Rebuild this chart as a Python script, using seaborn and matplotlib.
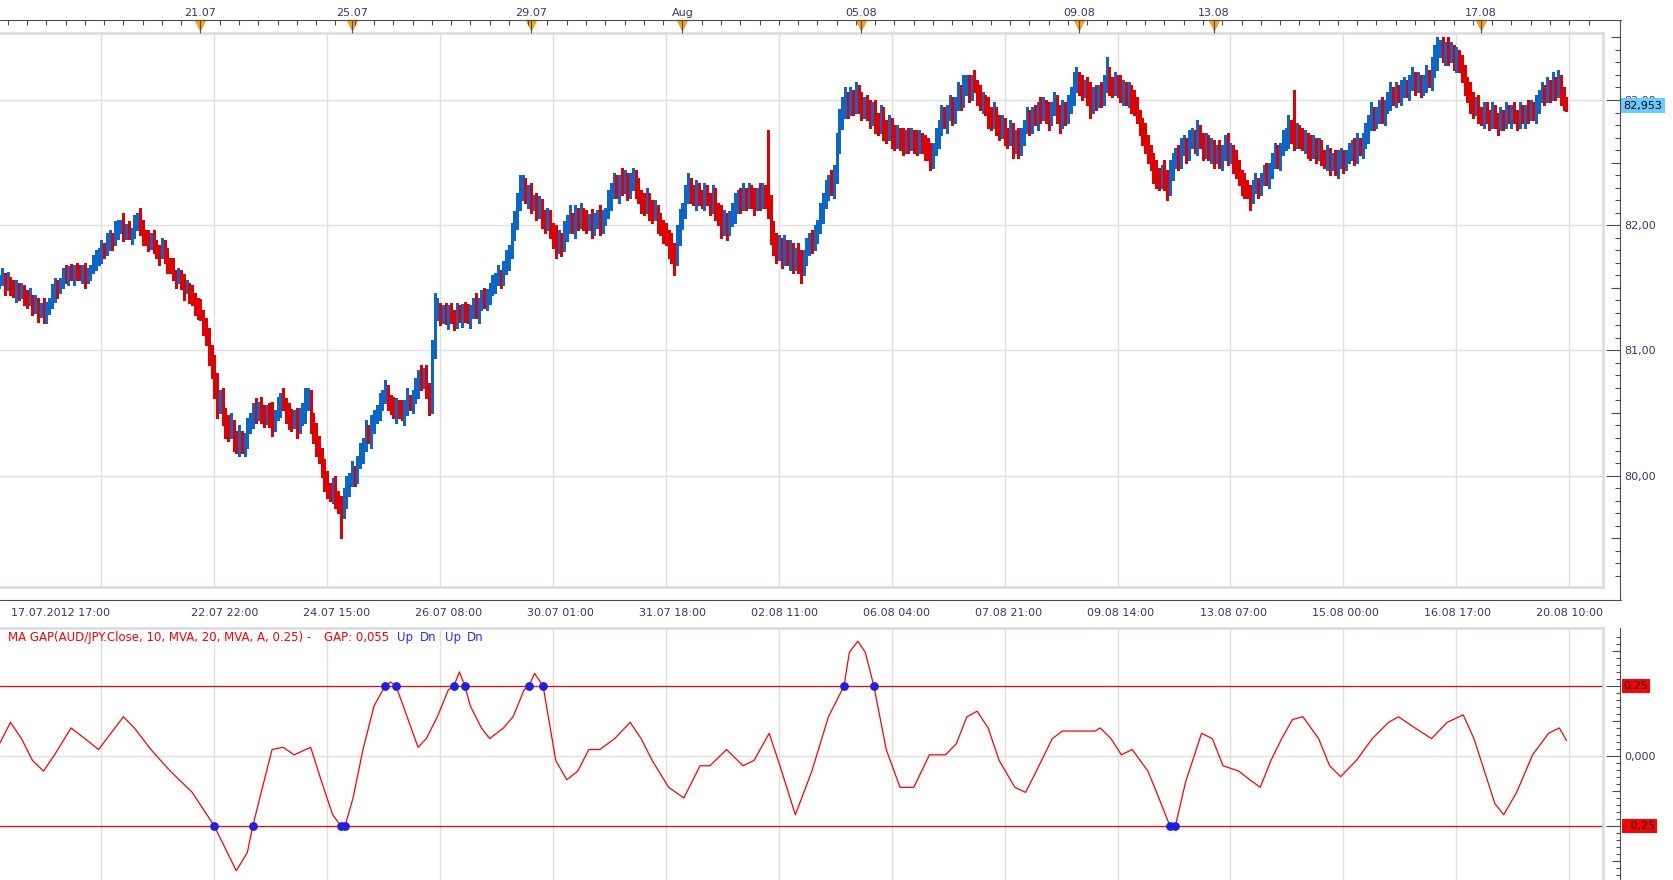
import numpy as np
import pandas as pd
import seaborn as sns
import matplotlib.pyplot as plt
import matplotlib.transforms as mtransforms
from matplotlib.lines import Line2D

# ---- AUD/JPY hourly closes (one value per bar) ----
close = [
    81.56, 81.60, 81.52, 81.55, 81.50, 81.47, 81.52, 81.46, 81.48, 81.44,
    81.40, 81.42, 81.36, 81.38, 81.33, 81.36, 81.30, 81.35, 81.38, 81.45,
    81.52, 81.50, 81.56, 81.60, 81.58, 81.63, 81.60, 81.66, 81.62, 81.60,
    81.64, 81.58, 81.62, 81.66, 81.70, 81.72, 81.78, 81.82, 81.80, 81.86,
    81.90, 81.88, 81.95, 81.98, 82.00, 81.95, 81.97, 81.93, 81.96, 82.00,
    82.04, 81.98, 81.92, 81.88, 81.85, 81.90, 81.86, 81.80, 81.78, 81.84,
    81.76, 81.70, 81.66, 81.62, 81.58, 81.60, 81.55, 81.50, 81.52, 81.46,
    81.42, 81.38, 81.33, 81.30, 81.22, 81.12, 81.00, 80.88, 80.70, 80.58,
    80.62, 80.50, 80.42, 80.36, 80.40, 80.30, 80.26, 80.32, 80.24, 80.28,
    80.38, 80.46, 80.52, 80.48, 80.55, 80.50, 80.45, 80.52, 80.47, 80.42,
    80.48, 80.55, 80.60, 80.58, 80.52, 80.45, 80.42, 80.48, 80.40, 80.44,
    80.50, 80.58, 80.62, 80.46, 80.34, 80.26, 80.18, 80.05, 79.98, 79.90,
    79.86, 79.92, 79.84, 79.78, 79.72, 79.82, 79.90, 79.96, 80.04, 80.00,
    80.10, 80.18, 80.26, 80.34, 80.30, 80.40, 80.46, 80.52, 80.58, 80.62,
    80.66, 80.60, 80.55, 80.50, 80.56, 80.52, 80.48, 80.54, 80.60, 80.56,
    80.62, 80.70, 80.78, 80.74, 80.80, 80.70, 80.58, 81.02, 81.30, 81.34,
    81.28, 81.30, 81.25, 81.32, 81.28, 81.24, 81.30, 81.27, 81.33, 81.29,
    81.26, 81.32, 81.36, 81.30, 81.38, 81.42, 81.38, 81.45, 81.48, 81.52,
    81.56, 81.60, 81.58, 81.65, 81.72, 81.80, 81.92, 82.05, 82.18, 82.28,
    82.30, 82.24, 82.26, 82.18, 82.20, 82.12, 82.15, 82.08, 82.02, 82.06,
    81.98, 81.92, 81.86, 81.90, 81.85, 81.95, 82.02, 82.06, 82.00, 82.08,
    82.04, 82.10, 82.06, 82.02, 82.05, 82.00, 82.04, 82.08, 82.02, 82.06,
    82.10, 82.20, 82.28, 82.32, 82.26, 82.34, 82.30, 82.36, 82.28, 82.32,
    82.38, 82.30, 82.24, 82.20, 82.16, 82.22, 82.14, 82.10, 82.12, 82.04,
    82.00, 81.96, 81.92, 81.86, 81.80, 81.76, 81.90, 82.05, 82.12, 82.22,
    82.30, 82.26, 82.22, 82.28, 82.24, 82.20, 82.26, 82.22, 82.18, 82.24,
    82.14, 82.08, 82.02, 82.06, 82.00, 82.05, 82.10, 82.16, 82.22, 82.18,
    82.24, 82.20, 82.26, 82.22, 82.18, 82.24, 82.20, 82.26, 82.22, 82.12,
    81.95, 81.88, 81.80, 81.84, 81.78, 81.82, 81.76, 81.80, 81.72, 81.78,
    81.74, 81.70, 81.76, 81.82, 81.88, 81.86, 81.94, 82.00, 82.10, 82.20,
    82.28, 82.34, 82.30, 82.40, 82.62, 82.85, 82.92, 82.98, 82.94, 83.00,
    82.96, 83.02, 82.98, 82.94, 82.96, 82.90, 82.86, 82.92, 82.84, 82.80,
    82.86, 82.78, 82.74, 82.80, 82.72, 82.68, 82.74, 82.70, 82.64, 82.70,
    82.66, 82.72, 82.68, 82.64, 82.70, 82.66, 82.62, 82.60, 82.56, 82.62,
    82.70, 82.78, 82.86, 82.82, 82.90, 82.94, 82.88, 82.96, 83.04, 83.00,
    83.08, 83.12, 83.06, 83.14, 83.10, 83.04, 82.98, 83.00, 82.94, 82.88,
    82.84, 82.90, 82.82, 82.76, 82.80, 82.74, 82.70, 82.76, 82.66, 82.72,
    82.64, 82.70, 82.78, 82.84, 82.80, 82.88, 82.84, 82.92, 82.88, 82.94,
    82.90, 82.86, 82.92, 82.96, 82.90, 82.84, 82.92, 82.88, 82.94, 83.02,
    83.10, 83.16, 83.12, 83.06, 83.10, 83.04, 82.96, 83.04, 83.00, 83.06,
    83.02, 83.10, 83.18, 83.12, 83.08, 83.14, 83.10, 83.04, 83.08, 83.02,
    83.06, 83.00, 82.96, 82.88, 82.80, 82.74, 82.66, 82.60, 82.52, 82.44,
    82.40, 82.36, 82.44, 82.38, 82.32, 82.42, 82.50, 82.56, 82.52, 82.60,
    82.64, 82.58, 82.66, 82.70, 82.64, 82.72, 82.68, 82.62, 82.66, 82.58,
    82.62, 82.56, 82.60, 82.54, 82.58, 82.64, 82.56, 82.60, 82.52, 82.46,
    82.40, 82.34, 82.30, 82.28, 82.24, 82.30, 82.34, 82.30, 82.36, 82.40,
    82.38, 82.44, 82.50, 82.56, 82.52, 82.60, 82.66, 82.70, 82.76, 82.72,
    82.68, 82.74, 82.70, 82.66, 82.70, 82.64, 82.60, 82.66, 82.58, 82.62,
    82.56, 82.52, 82.56, 82.50, 82.54, 82.48, 82.52, 82.56, 82.50, 82.54,
    82.58, 82.62, 82.56, 82.64, 82.60, 82.66, 82.72, 82.80, 82.86, 82.82,
    82.88, 82.92, 82.86, 82.94, 82.98, 83.04, 83.00, 83.06, 83.02, 83.08,
    83.10, 83.06, 83.12, 83.16, 83.10, 83.14, 83.08, 83.12, 83.18, 83.14,
    83.22, 83.30, 83.38, 83.42, 83.36, 83.40, 83.34, 83.38, 83.30, 83.34,
    83.28, 83.22, 83.14, 83.06, 83.00, 82.94, 82.98, 82.90, 82.86, 82.92,
    82.88, 82.84, 82.90, 82.86, 82.82, 82.88, 82.84, 82.90, 82.86, 82.92,
    82.88, 82.84, 82.90, 82.86, 82.92, 82.88, 82.94, 82.90, 82.96, 83.02,
    83.06, 83.02, 83.08, 83.04, 83.10, 83.06, 83.12, 83.04, 82.98, 82.95,
]

# upper / lower shadow beyond the body, in steps of 2 pips (0.02 yen)
hi_wick = [
    2, 3, 1, 4, 2, 3, 2, 1, 3, 2, 2, 4, 1, 3, 2, 1, 3, 2, 2, 4, 3, 2, 1, 3, 4, 2, 3, 1, 2, 3,
    2, 3, 2, 1, 3, 4, 2, 3, 2, 4, 3, 2, 4, 3, 2, 5, 2, 3, 1, 4, 3, 5, 3, 2, 4, 2, 3, 1, 2, 3,
    2, 3, 2, 4, 1, 3, 2, 3, 2, 1, 3, 2, 2, 4, 1, 2, 3, 2, 4, 6, 3, 4, 2, 3, 5, 2, 3, 4, 2, 3,
    4, 2, 3, 5, 2, 4, 3, 2, 3, 6, 2, 4, 3, 5, 2, 3, 4, 2, 3, 5, 4, 6, 4, 3, 2, 4, 3, 2, 4, 3,
    2, 3, 4, 2, 3, 4, 5, 3, 4, 2, 3, 4, 2, 5, 3, 4, 3, 2, 4, 3, 5, 3, 2, 4, 3, 2, 4, 3, 5, 2,
    3, 4, 3, 5, 3, 4, 2, 3, 8, 4, 2, 3, 4, 2, 3, 2, 4, 3, 2, 3, 4, 2, 3, 5, 2, 3, 4, 2, 3, 4,
    3, 4, 2, 3, 4, 2, 5, 3, 4, 6, 5, 4, 3, 4, 2, 3, 4, 3, 2, 4, 3, 2, 4, 3, 2, 4, 3, 5, 2, 4,
    3, 4, 2, 3, 2, 4, 3, 2, 4, 3, 2, 4, 3, 5, 4, 3, 6, 4, 3, 5, 4, 3, 4, 2, 3, 4, 2, 3, 4, 2,
    3, 2, 3, 2, 4, 3, 5, 4, 3, 5, 6, 4, 3, 4, 3, 2, 4, 3, 2, 4, 3, 2, 4, 3, 2, 3, 4, 5, 3, 4,
    5, 3, 4, 3, 4, 3, 5, 4, 3, 27, 6, 4, 3, 4, 3, 5, 3, 4, 3, 2, 4, 3, 2, 4, 3, 4, 3, 2, 4, 3,
    4, 3, 5, 4, 6, 4, 5, 6, 4, 5, 4, 6, 5, 4, 3, 4, 5, 3, 4, 3, 5, 4, 3, 4, 3, 4, 3, 2, 4, 3,
    4, 3, 2, 4, 3, 2, 3, 4, 3, 2, 4, 3, 5, 4, 3, 5, 4, 3, 5, 4, 6, 4, 4, 3, 5, 3, 4, 3, 2, 4,
    3, 4, 2, 3, 4, 3, 2, 4, 3, 2, 3, 4, 3, 5, 4, 3, 4, 3, 5, 4, 3, 4, 3, 5, 4, 3, 4, 3, 5, 4,
    6, 5, 3, 4, 3, 4, 5, 3, 4, 3, 4, 5, 8, 4, 3, 4, 3, 5, 4, 3, 4, 3, 4, 3, 2, 3, 4, 3, 2, 3,
    4, 3, 2, 4, 3, 5, 4, 3, 4, 5, 4, 3, 5, 4, 3, 6, 4, 3, 4, 3, 4, 3, 2, 4, 3, 4, 5, 3, 2, 4,
    3, 2, 4, 3, 2, 3, 4, 2, 3, 4, 5, 3, 4, 5, 4, 3, 5, 4, 6, 4, 18, 4, 3, 4, 3, 2, 4, 3, 2, 4,
    3, 2, 4, 3, 2, 3, 4, 3, 2, 3, 4, 3, 4, 5, 3, 4, 5, 4, 6, 4, 3, 4, 5, 3, 4, 5, 3, 4, 3, 4,
    4, 3, 4, 5, 3, 4, 3, 4, 5, 3, 6, 7, 6, 3, 4, 3, 5, 4, 3, 4, 3, 4, 3, 2, 4, 3, 2, 3, 2, 3,
    3, 2, 4, 3, 2, 3, 2, 4, 3, 2, 3, 2, 4, 3, 2, 4, 3, 2, 4, 3, 4, 3, 5, 4, 6, 4, 6, 4, 3, 2,
]
lo_wick = [
    3, 2, 4, 2, 3, 2, 4, 3, 2, 4, 3, 2, 4, 3, 5, 3, 4, 4, 3, 2, 3, 4, 2, 3, 2, 3, 2, 4, 3, 2,
    3, 4, 2, 3, 2, 3, 2, 4, 3, 2, 3, 4, 2, 3, 2, 4, 3, 2, 4, 3, 2, 3, 4, 2, 3, 2, 4, 3, 5, 2,
    3, 4, 2, 3, 4, 2, 3, 5, 2, 4, 3, 5, 4, 3, 5, 4, 6, 5, 4, 6, 4, 5, 6, 4, 3, 5, 4, 5, 3, 4,
    3, 2, 4, 3, 2, 4, 3, 2, 4, 5, 3, 2, 4, 3, 5, 4, 3, 2, 5, 3, 2, 4, 3, 6, 4, 5, 4, 3, 5, 4,
    3, 4, 5, 4, 11, 3, 4, 3, 2, 4, 3, 2, 4, 3, 2, 4, 3, 2, 4, 3, 2, 4, 3, 2, 4, 3, 2, 4, 3, 2,
    3, 2, 4, 3, 2, 4, 5, 4, 4, 3, 4, 3, 2, 4, 3, 4, 3, 2, 4, 3, 2, 4, 3, 2, 4, 3, 2, 3, 4, 2,
    3, 2, 4, 3, 2, 4, 3, 2, 4, 3, 4, 3, 5, 4, 3, 4, 3, 5, 4, 3, 4, 5, 6, 4, 5, 3, 4, 4, 3, 5,
    4, 3, 5, 4, 3, 5, 4, 3, 5, 4, 3, 2, 4, 3, 2, 4, 3, 2, 4, 3, 2, 4, 3, 5, 4, 3, 5, 4, 3, 5,
    4, 5, 4, 6, 5, 8, 4, 3, 4, 3, 2, 4, 3, 5, 4, 3, 4, 3, 5, 4, 5, 4, 6, 5, 6, 4, 3, 4, 3, 4,
    3, 4, 3, 4, 5, 3, 4, 3, 4, 3, 5, 6, 5, 4, 6, 5, 4, 6, 5, 4, 6, 8, 5, 4, 3, 4, 3, 4, 3, 4,
    3, 4, 3, 4, 3, 2, 4, 3, 4, 3, 4, 3, 4, 5, 4, 3, 4, 3, 5, 4, 3, 5, 4, 3, 5, 4, 3, 5, 4, 3,
    4, 3, 5, 4, 3, 4, 5, 4, 6, 5, 3, 4, 3, 2, 4, 3, 4, 3, 2, 4, 3, 2, 4, 3, 2, 4, 3, 4, 3, 5,
    4, 3, 5, 4, 3, 5, 4, 3, 6, 4, 5, 4, 3, 2, 4, 3, 2, 4, 3, 2, 4, 5, 3, 2, 4, 5, 3, 4, 3, 2,
    3, 2, 4, 3, 2, 4, 5, 3, 4, 3, 4, 3, 2, 4, 3, 2, 4, 3, 4, 3, 4, 5, 4, 3, 4, 5, 4, 5, 4, 5,
    5, 4, 3, 5, 6, 4, 3, 2, 4, 3, 2, 4, 3, 2, 3, 4, 3, 5, 4, 3, 4, 5, 3, 4, 5, 3, 4, 3, 5, 4,
    4, 5, 4, 3, 6, 3, 2, 4, 3, 2, 3, 4, 3, 2, 3, 4, 2, 3, 4, 3, 4, 3, 4, 3, 4, 5, 4, 3, 4, 3,
    4, 3, 4, 5, 3, 4, 5, 3, 4, 3, 2, 3, 4, 3, 2, 3, 2, 3, 2, 3, 2, 3, 2, 3, 2, 3, 2, 3, 2, 3,
    3, 2, 3, 2, 3, 2, 3, 2, 3, 2, 3, 2, 3, 2, 3, 4, 3, 2, 3, 4, 3, 4, 5, 4, 5, 4, 3, 4, 3, 4,
    3, 4, 3, 4, 5, 3, 4, 3, 2, 4, 3, 4, 3, 2, 4, 3, 2, 3, 4, 3, 2, 3, 2, 3, 2, 3, 2, 4, 3, 2,
]

# MA GAP indicator (bar position, value)
gap_bar = [0, 4, 8, 12, 16, 20, 26, 31, 36, 39, 45, 49, 55, 62, 70, 78, 82, 86, 90, 92,
           95.5, 99, 103, 107, 113, 117, 121, 124, 124.8, 125.5, 128.4, 132, 136, 140, 142,
           144, 148, 152, 155, 159, 163, 165, 167, 169, 171, 175, 178, 183, 186.5, 190.5,
           192.3, 194.3, 197.4, 202, 206, 210, 214, 218, 223.4, 229, 233, 237, 243, 248.5,
           254.4, 258, 264, 270, 274, 279.5, 283.4, 289, 295, 301, 306.7, 308.6, 311.7,
           314.4, 317.5, 322, 327, 332, 337.7, 343.5, 347.4, 351.3, 355, 359, 363, 368.7,
           372.6, 376.5, 382.3, 386, 392, 397.8, 399.7, 403.6, 407.4, 411.3, 417, 421, 425,
           426, 427, 430.7, 436.5, 440.4, 444.3, 450, 454, 457.8, 461.7, 465.6, 469.5,
           473.3, 479, 483, 487, 492.7, 498.5, 504.4, 508, 514, 520, 525.7, 531.5, 535.4,
           539.2, 543, 546.2, 550.9, 556.7, 562.5, 566.4, 569]
gap_val = [0.043, 0.12, 0.062, -0.016, -0.054, 0.004, 0.10, 0.062, 0.023, 0.062, 0.14, 0.10,
           0.023, -0.054, -0.13, -0.25, -0.33, -0.41, -0.345, -0.25, -0.112, 0.023, 0.031,
           0.004, 0.031, -0.093, -0.21, -0.25, -0.262, -0.25, -0.15, 0.023, 0.178, 0.25,
           0.264, 0.25, 0.14, 0.031, 0.062, 0.14, 0.236, 0.25, 0.30, 0.25, 0.178, 0.10,
           0.062, 0.10, 0.14, 0.236, 0.25, 0.295, 0.25, -0.016, -0.085, -0.054, 0.023,
           0.023, 0.062, 0.12, 0.062, -0.016, -0.112, -0.15, -0.035, -0.035, 0.023, -0.035,
           -0.016, 0.081, -0.035, -0.21, -0.054, 0.14, 0.25, 0.37, 0.41, 0.37, 0.25, 0.023,
           -0.112, -0.112, 0.004, 0.004, 0.043, 0.14, 0.16, 0.10, -0.016, -0.112, -0.13,
           -0.054, 0.062, 0.089, 0.089, 0.089, 0.10, 0.062, 0.004, 0.023, -0.054, -0.15,
           -0.25, -0.262, -0.25, -0.093, 0.081, 0.062, -0.035, -0.054, -0.085, -0.112,
           -0.016, 0.062, 0.13, 0.14, 0.062, -0.035, -0.074, -0.016, 0.062, 0.12, 0.14,
           0.10, 0.062, 0.12, 0.147, 0.062, -0.054, -0.17, -0.21, -0.13, 0.004, 0.081,
           0.10, 0.055]

# Up / Dn signal dots where the gap crosses the band
sig_bar = [78, 92, 124, 125.5, 140, 144, 165, 169, 192.3, 197.4, 306.7, 317.5, 425, 427]
sig_val = [-0.25, -0.25, -0.25, -0.25, 0.25, 0.25, 0.25, 0.25, 0.25, 0.25, 0.25, 0.25,
           -0.25, -0.25]

grid_bars = [37, 78, 119, 160, 201, 242, 283, 324, 365, 406, 447, 488, 529, 570]
time_labels = ['', '22.07 22:00', '24.07 15:00', '26.07 08:00', '30.07 01:00',
               '31.07 18:00', '02.08 11:00', '06.08 04:00', '07.08 21:00', '09.08 14:00',
               '13.08 07:00', '15.08 00:00', '16.08 17:00', '20.08 10:00']
first_label = '17.07.2012 17:00'
day_bars = [73, 128, 193, 248, 313, 392, 441, 538]
day_labels = ['21.07', '25.07', '29.07', 'Aug', '05.08', '09.08', '13.08', '17.08']
price_ticks = [80, 81, 82, 83]
price_labels = ['80,00', '81,00', '82,00', '83,00']
last_price = 82.953
last_label = '82,953'
gap_level = 0.25
gap_title = 'MA GAP(AUD/JPY.Close, 10, MVA, 20, MVA, A, 0.25) -'
gap_value_text = 'GAP: 0,055'

assert len(close) == len(hi_wick) == len(lo_wick)
assert len(gap_bar) == len(gap_val)

UP, DOWN = '#0a66c8', '#e00000'
RED, DOT = '#ff0000', '#1f1fe6'
NAVY, AXC = '#36366e', '#4d4d4d'
BORDER, GRID, ORANGE = '#d5dce6', '#e0e0e0', '#f7a11a'

sns.set_style('white')
plt.rcParams['font.family'] = ['DejaVu Sans']

W, H = 1674, 880
fig = plt.figure(figsize=(W / 100, H / 100), dpi=100)


def rect(x0, y0, x1, y1):
    # pixel box (top-left origin) -> figure fraction rect
    return [x0 / W, 1 - y1 / H, (x1 - x0) / W, (y1 - y0) / H]


def strip(r, xlim=None, ylim=None):
    a = fig.add_axes(r)
    a.patch.set_visible(False)
    for s in a.spines.values():
        s.set_visible(False)
    a.set_xticks([])
    a.set_yticks([])
    if xlim:
        a.set_xlim(xlim)
    if ylim:
        a.set_ylim(ylim)
    return a


def fig_line(x0, y0, x1, y1):
    fig.add_artist(Line2D([x0 / W, x1 / W], [1 - y0 / H, 1 - y1 / H],
                          transform=fig.transFigure, color=AXC, lw=0.8))


XLIM = (0.2, 0.2 + 1603 / 2.754)
MAIN_YLIM = (79.11, 83.535)
GAP_YLIM = (-0.443, 0.457)

df = pd.DataFrame({'close': close})
df['bar'] = np.arange(len(df))
df['open'] = df['close'].shift(1).fillna(df['close'].iloc[0])
df['high'] = df[['open', 'close']].max(axis=1) + np.array(hi_wick) * 0.02
df['low'] = df[['open', 'close']].min(axis=1) - np.array(lo_wick) * 0.02
df['color'] = np.where(df['close'] >= df['open'], UP, DOWN)
body = df['close'] - df['open']
body = body.where(body.abs() > 0.006, 0.008)

# ---- price panel ----
ax = fig.add_axes(rect(0, 33, 1603, 587))
ax.vlines(df['bar'], df['low'], df['high'], colors=df['color'], lw=0.75, antialiased=False)
ax.bar(df['bar'], body, bottom=df['open'], width=0.6, color=df['color'], lw=0,
       antialiased=False)
ax.set_xlim(XLIM)
ax.set_ylim(MAIN_YLIM)
ax.set_xticks(grid_bars)
ax.set_yticks(price_ticks)
ax.tick_params(length=0, labelbottom=False, labelleft=False)
ax.grid(True, color=GRID, lw=1.0)
ax.set_axisbelow(True)
for s in ['top', 'right', 'bottom']:
    ax.spines[s].set(color=BORDER, lw=1.8)
ax.spines['left'].set_visible(False)

# day markers on the top axis
ax.plot(day_bars, [1.0144] * len(day_bars), ls='none', marker='v', ms=6.5, color=ORANGE,
        transform=mtransforms.blended_transform_factory(ax.transData, ax.transAxes),
        clip_on=False, zorder=6)

# ---- indicator panel ----
iax = fig.add_axes(rect(0, 628, 1603, 880))
iax.axhline(gap_level, color=RED, lw=0.9)
iax.axhline(-gap_level, color=RED, lw=0.9)
sns.lineplot(x=gap_bar, y=gap_val, ax=iax, color=RED, linewidth=0.9, estimator=None,
             sort=False, legend=False)
sns.scatterplot(x=sig_bar, y=sig_val, ax=iax, color=DOT, s=40, linewidth=0, zorder=5,
                legend=False)
iax.set_xlim(XLIM)
iax.set_ylim(GAP_YLIM)
iax.set_xticks(grid_bars)
iax.set_yticks([0])
iax.tick_params(length=0, labelbottom=False, labelleft=False)
iax.grid(True, color=GRID, lw=1.0)
iax.set_axisbelow(True)
for s in ['top', 'right']:
    iax.spines[s].set(color=BORDER, lw=1.8)
for s in ['left', 'bottom']:
    iax.spines[s].set_visible(False)

ty = 1 - 637 / H
fig.text(8 / W, ty, gap_title, color=RED, fontsize=8.5, va='center')
fig.text(324 / W, ty, gap_value_text, color=RED, fontsize=8.5, va='center')
for xp, word in zip([397, 420, 445, 467], ['Up', 'Dn', 'Up', 'Dn']):
    fig.text(xp / W, ty, word, color='#2a2aff', fontsize=8.5, va='center')

# ---- axis strips ----
tick_kw = dict(color=AXC, width=0.8, direction='in')

top = strip(rect(0, 20, 1603, 21), xlim=XLIM)
top.xaxis.tick_top()
top.set_xticks(day_bars, day_labels)
top.set_xticks(np.arange(3, 582, 7), minor=True)
top.tick_params(axis='x', which='major', length=9.4, pad=1.5, labelsize=8,
                labelcolor=NAVY, **tick_kw)
top.tick_params(axis='x', which='minor', length=3.6, **tick_kw)

bot = strip(rect(0, 599, 1603, 600), xlim=XLIM)
bot.set_xticks([XLIM[0]] + grid_bars, [first_label] + time_labels)
bot.set_xticks(np.arange(37 - 41, 582, 41 / 8), minor=True)
bot.tick_params(axis='x', which='major', length=9.0, pad=5.5, labelsize=8,
                labelcolor=NAVY, **tick_kw)
bot.tick_params(axis='x', which='minor', length=3.6, **tick_kw)
bot.get_xticklabels()[0].set_ha('left')

rmain = strip(rect(1619, 33, 1620, 587), ylim=MAIN_YLIM)
rmain.yaxis.tick_right()
rmain.set_yticks(price_ticks, price_labels)
rmain.set_yticks(np.arange(79.2, 83.55, 0.1), minor=True)
rmain.tick_params(axis='y', which='major', length=10, pad=3, labelsize=8,
                  labelcolor=NAVY, **tick_kw)
rmain.tick_params(axis='y', which='minor', length=3.6, **tick_kw)
rmid = strip(rect(1619, 33, 1620, 587), ylim=MAIN_YLIM)
rmid.yaxis.tick_right()
rmid.set_yticks([79.5, 80.5, 81.5, 82.5, 83.5], [''] * 5)
rmid.tick_params(axis='y', length=6.5, **tick_kw)
rmain.text(1623.5 / W, last_price, last_label, fontsize=8, color='black', va='center',
           ha='left', zorder=10,
           transform=mtransforms.blended_transform_factory(fig.transFigure, rmain.transData),
           bbox=dict(boxstyle='square,pad=0.22', fc='#66ccff', ec='none'))

rgap = strip(rect(1619, 628, 1620, 880), ylim=GAP_YLIM)
rgap.yaxis.tick_right()
rgap.set_yticks([-gap_level, 0, gap_level], ['', '0,000', ''])
rgap.set_yticks(np.arange(-0.425, 0.45, 0.025), minor=True)
rgap.tick_params(axis='y', which='major', length=10, pad=3, labelsize=8,
                 labelcolor=NAVY, **tick_kw)
rgap.tick_params(axis='y', which='minor', length=2.8, **tick_kw)
rgmid = strip(rect(1619, 628, 1620, 880), ylim=GAP_YLIM)
rgmid.yaxis.tick_right()
rgmid.set_yticks([-0.375, -0.125, 0.125, 0.375], [''] * 4)
rgmid.tick_params(axis='y', length=5.5, **tick_kw)
btr = mtransforms.blended_transform_factory(fig.transFigure, rgap.transData)
for lvl, txt in [(gap_level, '0,25'), (-gap_level, '- 0,25')]:
    rgap.text(1623.5 / W, lvl, txt, fontsize=8, color='black', va='center', ha='left',
              transform=btr, zorder=10,
              bbox=dict(boxstyle='square,pad=0.15', fc=RED, ec='none'))

# axis lines round the panels
fig_line(0, 20, 1621, 20)
fig_line(1620, 20, 1620, 600)
fig_line(0, 600, 1621, 600)
fig_line(1620, 628, 1620, 880)

fig.savefig('out.png', dpi=100)
